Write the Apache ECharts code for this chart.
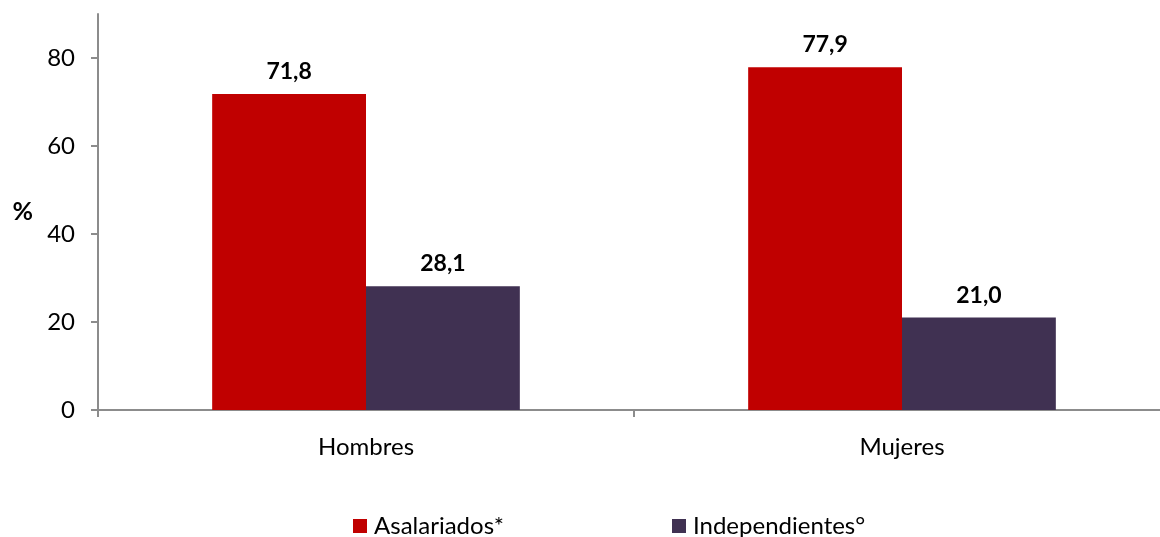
<!DOCTYPE html>
<html>
<head>
<meta charset="utf-8">
<script src="https://cdn.jsdelivr.net/npm/echarts@6/dist/echarts.min.js"></script>
<style>
html,body{margin:0;padding:0;background:#fff;}
#chart{width:1160px;height:537px;}
</style>
</head>
<body>
<div id="chart"></div>
<script>
const categories = ['Hombres', 'Mujeres'];
const asalariados = [71.8, 77.9];
const independientes = [28.1, 21.0];
const seriesNames = ['Asalariados*', 'Independientes°'];
const yTicks = [0, 20, 40, 60, 80];

const FONT = 'Lato';
const chart = echarts.init(document.getElementById('chart'), null, {renderer: 'canvas'});
const labelFmt = p => p.value.toFixed(1).replace('.', ',');
const barLabel = {
  show: true, position: 'top', distance: 11,
  formatter: labelFmt,
  fontFamily: FONT, fontWeight: 'bold', fontSize: 23, color: '#000'
};
const legendText = {fontFamily: FONT, fontSize: 24, color: '#000', padding: [0,0,0,2]};
chart.setOption({
  animation: false,
  textStyle: {fontFamily: FONT},
  grid: {left: 98, top: 14, right: -10, bottom: 127, containLabel: false, outerBoundsMode: 'none'},
  legend: [
    {data: [seriesNames[0]], left: 348, top: 509, itemWidth: 14, itemHeight: 14, itemGap: 6,
     icon: 'rect', textStyle: legendText},
    {data: [seriesNames[1]], left: 667, top: 509, itemWidth: 14, itemHeight: 14, itemGap: 6,
     icon: 'rect', textStyle: legendText}
  ],
  xAxis: {
    type: 'category', data: categories, boundaryGap: true,
    axisLine: {lineStyle: {color: '#8c8c8c', width: 2}},
    axisTick: {show: true, length: 7, lineStyle: {color: '#8c8c8c', width: 2}},
    axisLabel: {fontFamily: FONT, fontSize: 24, color: '#000', margin: 25}
  },
  yAxis: {
    type: 'value', min: 0, max: 90, interval: 20,
    name: '%', nameLocation: 'middle', nameGap: 65, nameRotate: 0,
    nameTextStyle: {fontFamily: FONT, fontWeight: 'bold', fontSize: 25, color: '#000'},
    axisLine: {show: true, lineStyle: {color: '#8c8c8c', width: 2}},
    axisTick: {show: true, length: 7, lineStyle: {color: '#8c8c8c', width: 2},
      customValues: yTicks},
    axisLabel: {fontFamily: FONT, fontSize: 24, color: '#000', margin: 23,
      customValues: yTicks},
    splitLine: {show: false}
  },
  series: [
    {name: seriesNames[0], type: 'bar', data: asalariados, barWidth: '28.7%', barGap: '0%',
     itemStyle: {color: '#C00000'}, label: barLabel},
    {name: seriesNames[1], type: 'bar', data: independientes, barWidth: '28.7%', barGap: '0%',
     itemStyle: {color: '#403152'}, label: barLabel}
  ]
});
</script>
</body>
</html>
